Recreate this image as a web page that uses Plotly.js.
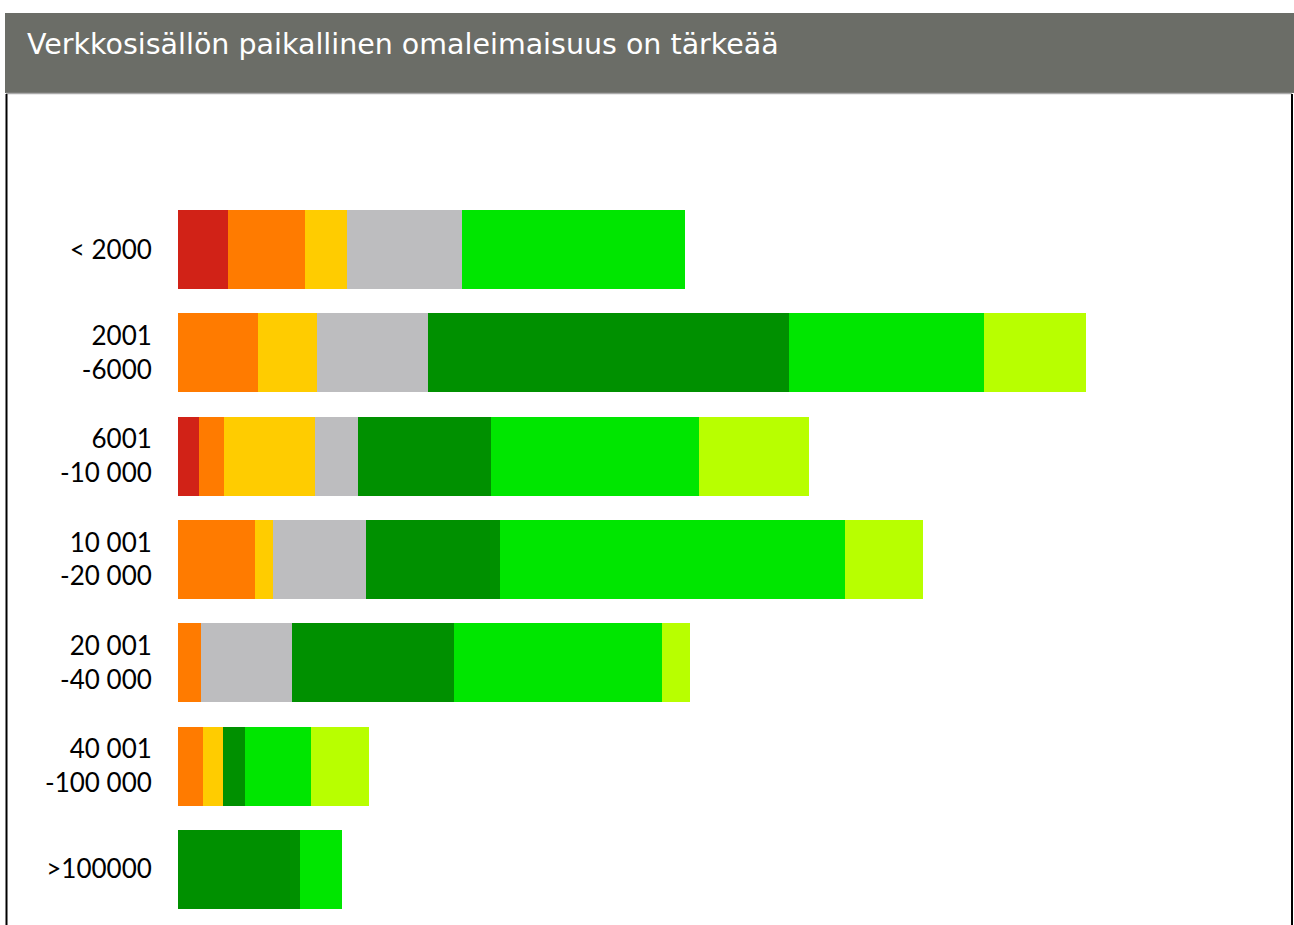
<!DOCTYPE html>
<html>
<head>
<meta charset="utf-8">
<script src="https://cdn.plot.ly/plotly-3.0.1.min.js"></script>
<style>html,body{margin:0;padding:0;background:#fff;}#chart{width:1294px;height:925px;}</style>
</head>
<body>
<div id="chart"></div>
<script>
// Categories (municipality population classes)
const categories = ["< 2000", "2001<br>-6000", "6001<br>-10 000", "10 001<br>-20 000", "20 001<br>-40 000", "40 001<br>-100 000", ">100000"];
// Series values (arbitrary units)
const s1 = [5.0, 0.0, 2.1, 0.0, 0.0, 0.0, 0.0];     // red
const s2 = [7.7, 8.0, 2.5, 7.7, 2.3, 2.5, 0.0];     // orange
const s3 = [4.2, 5.9, 9.1, 1.8, 0.0, 2.0, 0.0];     // yellow
const s4 = [11.5, 11.1, 4.3, 9.3, 9.1, 0.0, 0.0];   // gray
const s5 = [0.0, 36.1, 13.3, 13.4, 16.2, 2.2, 12.2]; // dark green
const s6 = [22.3, 19.5, 20.8, 34.5, 20.8, 6.6, 4.2]; // green
const s7 = [0.0, 10.2, 11.0, 7.8, 2.8, 5.8, 0.0];   // lime
const seriesNames = ["1", "2", "3", "4", "5", "6", "7"];
const seriesValues = [s1, s2, s3, s4, s5, s6, s7];
const colors = ["#d12217", "#ff7b00", "#ffcc00", "#bdbdbf", "#009000", "#00e600", "#b8ff00"];

const W = 1294, H = 925;
const m = {l: 178, r: 16, t: 198, b: 4};
const pw = W - m.l - m.r, ph = H - m.t - m.b;
const px = x => (x - m.l) / pw;
const py = y => 1 - (y - m.t) / ph;

const traces = seriesValues.map((v, i) => ({
  type: "bar",
  orientation: "h",
  name: seriesNames[i],
  x: v,
  y: categories,
  marker: {color: colors[i], line: {width: 0}},
  hoverinfo: "x+y+name"
}));

const layout = {
  width: W, height: H,
  margin: m,
  barmode: "stack",
  bargap: 0.235,
  showlegend: false,
  paper_bgcolor: "#ffffff",
  plot_bgcolor: "#ffffff",
  title: {
    text: "Verkkosisällön paikallinen omaleimaisuus on tärkeää",
    font: {family: "DejaVu Sans", size: 28.5, color: "#ffffff"},
    x: 27 / W, xanchor: "left", xref: "container",
    y: 1 - 44 / H, yanchor: "middle", yref: "container"
  },
  xaxis: {
    range: [0, pw / 10],
    showgrid: false, zeroline: false, showline: false,
    showticklabels: false, ticks: ""
  },
  yaxis: {
    type: "category",
    range: [6.5, -0.5],
    showgrid: false, zeroline: false, showline: false,
    ticks: "outside", ticklen: 20, tickcolor: "rgba(0,0,0,0)",
    tickfont: {family: "Lato", size: 26, color: "#000000"}
  },
  shapes: [
    {type: "rect", xref: "paper", yref: "paper", x0: px(5), x1: px(1294), y0: py(93), y1: py(13),
     fillcolor: "#6b6d67", line: {width: 0}, layer: "below"},
    {type: "line", xref: "paper", yref: "paper", x0: px(6), x1: px(1292), y0: py(93.5), y1: py(93.5),
     line: {color: "#aaaaaa", width: 1.5}},
    {type: "line", xref: "paper", yref: "paper", x0: px(6.5), x1: px(6.5), y0: py(94), y1: py(925),
     line: {color: "#000000", width: 2}},
    {type: "line", xref: "paper", yref: "paper", x0: px(1292), x1: px(1292), y0: py(94), y1: py(925),
     line: {color: "#000000", width: 2}}
  ]
};

Plotly.newPlot("chart", traces, layout, {displayModeBar: false, staticPlot: true});
</script>
</body>
</html>
